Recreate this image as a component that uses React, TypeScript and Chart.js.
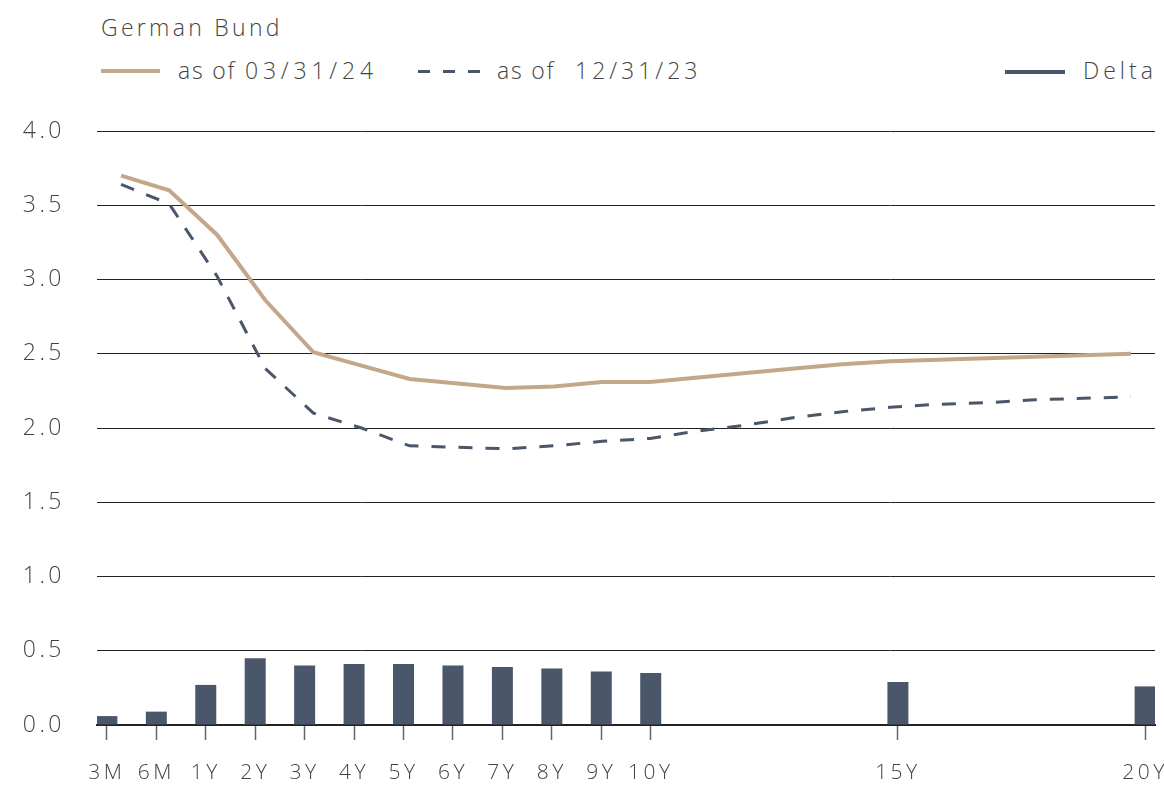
import React, { useEffect, useRef } from "react";
import { Chart, registerables } from "chart.js";

Chart.register(...registerables);

// ---- Data ----
const tenors = ["3M", "6M", "1Y", "2Y", "3Y", "4Y", "5Y", "6Y", "7Y", "8Y", "9Y", "10Y", "11Y", "12Y", "13Y", "14Y", "15Y", "16Y", "17Y", "18Y", "19Y", "20Y"];
const shownTickLabels = ["3M", "6M", "1Y", "2Y", "3Y", "4Y", "5Y", "6Y", "7Y", "8Y", "9Y", "10Y", "15Y", "20Y"];
const yieldsMar24 = [3.70, 3.60, 3.30, 2.86, 2.51, 2.42, 2.33, 2.30, 2.27, 2.28, 2.31, 2.31, 2.34, 2.37, 2.40, 2.43, 2.45, 2.46, 2.47, 2.48, 2.49, 2.50];
const yieldsDec23 = [3.64, 3.51, 3.02, 2.40, 2.10, 2.00, 1.88, 1.87, 1.86, 1.88, 1.91, 1.93, 1.98, 2.02, 2.07, 2.11, 2.14, 2.16, 2.17, 2.19, 2.20, 2.21];
const delta: (number | null)[] = [0.06, 0.09, 0.27, 0.45, 0.40, 0.41, 0.41, 0.40, 0.39, 0.38, 0.36, 0.35, null, null, null, null, 0.29, null, null, null, null, 0.26];
const yTickValues = [0, 0.5, 1.0, 1.5, 2.0, 2.5, 3.0, 3.5, 4.0];

const TAN = "#c4a78b";
const SLATE = "#4a5669";
const TEXT = "#444444";
const FONT = "'Open Sans', 'Noto Sans', sans-serif";

export default function App() {
  const canvasRef = useRef<HTMLCanvasElement | null>(null);

  useEffect(() => {
    document.body.style.margin = "0";
    const canvas = canvasRef.current;
    if (!canvas) return;

    const tickIdx = shownTickLabels.map((l) => tenors.indexOf(l));

    const chart = new Chart(canvas, {
      type: "line",
      data: {
        datasets: [
          {
            type: "line",
            label: "as of 03/31/24",
            xAxisID: "x2",
            data: yieldsMar24.map((v, i) => ({ x: i, y: v })),
            borderColor: TAN,
            borderWidth: 4,
            pointRadius: 0,
            tension: 0,
            fill: false,
            order: 1,
          } as any,
          {
            type: "line",
            label: "as of 12/31/23",
            xAxisID: "x2",
            data: yieldsDec23.map((v, i) => ({ x: i, y: v })),
            borderColor: SLATE,
            borderWidth: 3,
            borderDash: [14, 13],
            pointRadius: 0,
            tension: 0,
            fill: false,
            order: 1,
          } as any,
          {
            type: "bar",
            label: "Delta",
            xAxisID: "x",
            data: delta
              .map((v, i) => (v === null ? null : { x: i, y: v }))
              .filter((p) => p !== null) as any,
            backgroundColor: SLATE,
            grouped: false,
            barPercentage: 0.9,
            maxBarThickness: 21,
            order: 2,
          } as any,
        ],
      },
      options: {
        animation: false,
        responsive: true,
        maintainAspectRatio: false,
        layout: { padding: { top: 131, right: 9, bottom: 0, left: 0 } },
        plugins: {
          legend: { display: false },
          tooltip: { enabled: false },
        },
        scales: {
          x: {
            type: "linear",
            min: -0.2,
            max: 21.2,
            offset: false,
            afterBuildTicks: (scale: any) => {
              scale.ticks = tickIdx.map((v) => ({ value: v }));
            },
            afterFit: (scale: any) => {
              scale.height = 60;
              scale.paddingLeft = 0;
              scale.paddingRight = 0;
            },
            grid: {
              offset: false,
              drawOnChartArea: false,
              drawTicks: true,
              tickLength: 15,
              tickColor: "#666666",
              tickWidth: 1.5,
            },
            border: { display: true, color: "#222222", width: 2 },
            ticks: {
              autoSkip: false,
              maxRotation: 0,
              padding: 20,
              color: TEXT,
              font: { family: FONT, size: 21, weight: "300" as any },
              callback: (v: any) => tenors[Number(v)] ?? "",
            },
          },
          x2: {
            type: "linear",
            min: -0.5,
            max: 21.5,
            offset: false,
            display: false,
            grid: { offset: false },
          },
          y: {
            min: 0,
            max: 4,
            afterBuildTicks: (scale: any) => {
              scale.ticks = yTickValues.map((v) => ({ value: v }));
            },
            afterFit: (scale: any) => {
              scale.width = 97;
            },
            border: { display: false },
            grid: {
              drawTicks: false,
              tickLength: 0,
              lineWidth: 1,
              color: (ctx: any) => (ctx.tick && ctx.tick.value === 0 ? "rgba(0,0,0,0)" : "#222222"),
            },
            ticks: {
              padding: 32,
              color: TEXT,
              font: { family: FONT, size: 23, weight: "300" as any },
              callback: (v: any) => Number(v).toFixed(1),
            },
          },
        },
      },
      plugins: [
        {
          id: "letterSpacing",
          beforeDraw: (c: any) => {
            (c.ctx as any).letterSpacing = "3.5px";
          },
        },
      ],
    });

    return () => {
      chart.destroy();
    };
  }, []);

  const textStyle: React.CSSProperties = {
    position: "absolute",
    fontFamily: FONT,
    fontWeight: 300,
    color: TEXT,
    whiteSpace: "nowrap",
    lineHeight: 1,
  };

  return (
    <div style={{ position: "fixed", left: 0, top: 0, width: 1164, height: 785, background: "#fff" }}>
      <div style={{ ...textStyle, left: 101, top: 16, fontSize: 23, letterSpacing: 3.3 }}>German Bund</div>

      <div style={{ position: "absolute", left: 101, top: 69, width: 59, height: 4, background: TAN }} />
      <div style={{ ...textStyle, left: 178, top: 59, fontSize: 23, letterSpacing: 1.8 }}>as of</div>
      <div style={{ ...textStyle, left: 245, top: 59, fontSize: 23, letterSpacing: 4.8 }}>03/31/24</div>

      <div
        style={{
          position: "absolute",
          left: 418,
          top: 70,
          width: 62,
          height: 3,
          background: `repeating-linear-gradient(to right, ${SLATE} 0px, ${SLATE} 12px, transparent 12px, transparent 25px)`,
        }}
      />
      <div style={{ ...textStyle, left: 497, top: 59, fontSize: 23, letterSpacing: 1.8 }}>as of</div>
      <div style={{ ...textStyle, left: 575, top: 59, fontSize: 23, letterSpacing: 4 }}>12/31/23</div>

      <div style={{ position: "absolute", left: 1005, top: 70, width: 60, height: 4, background: SLATE }} />
      <div style={{ ...textStyle, left: 1083, top: 59, fontSize: 23, letterSpacing: 4 }}>Delta</div>

      <div style={{ position: "absolute", left: 0, top: 0, width: 1164, height: 785 }}>
        <canvas ref={canvasRef} />
      </div>
    </div>
  );
}
